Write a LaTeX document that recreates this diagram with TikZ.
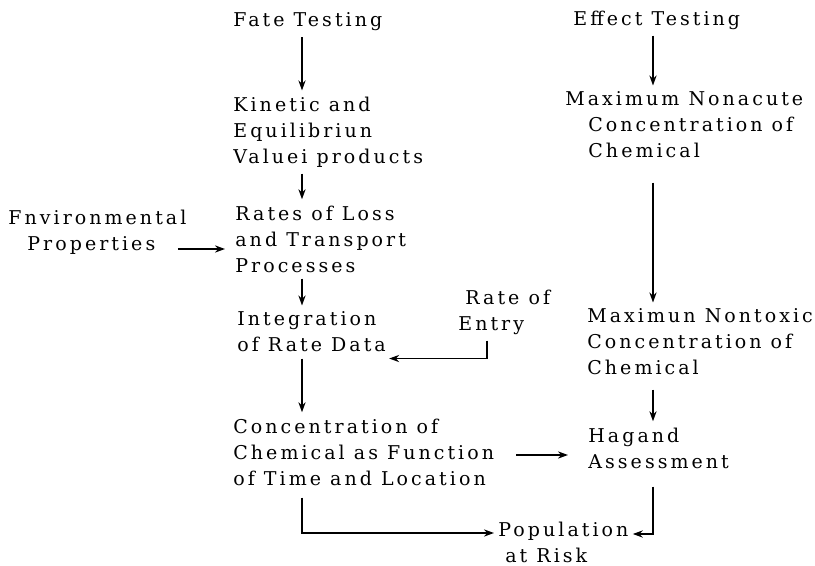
\documentclass[tikz,border=0pt]{standalone}
\usepackage{fontspec}
\setmainfont{DejaVu Serif}[LetterSpace=16]
\usepackage{tikz}
\usetikzlibrary{arrows.meta}

\begin{document}
\begin{tikzpicture}[
    x=0.5pt, y=-0.5pt,
    stage/.style={
        anchor=west,
        align=left,
        font=\fontsize{9.5}{13}\selectfont,
        inner xsep=0pt, inner ysep=3pt
    },
    line/.style={line width=0.7pt, -{Stealth[length=5pt,width=3.6pt]}}
]
\useasboundingbox (0,0) rectangle (815,566);

\coordinate (lcol) at (302,0);
\coordinate (rcol) at (653,0);

% Fate column
\node[stage] (fate) at (233,22) {Fate Testing};
\node[stage] (kin) at (233,132)
    {Kinetic and\\Equilibriun\\Valuei products};
\node[stage] (rates) at (235,239)
    {Rates of Loss\\and Transport\\Processes};
\node[stage] (env) at (8,232)
    {Fnvironmental\\\hspace*{9.5pt}Properties};
\node[stage] (integ) at (237,332)
    {Integration\\of Rate Data};
\node[stage] (entry) at (458,312)
    {\hspace*{3.5pt}Rate of\\Entry};
\node[stage] (conc) at (233,452)
    {Concentration of\\Chemical as Function\\of Time and Location};

% Effect column
\node[stage] (effect) at (573,20) {Effect Testing};
\node[stage] (nonacute) at (565,125)
    {Maximum Nonacute\\\hspace*{11.5pt}Concentration of\\\hspace*{11.5pt}Chemical};
\node[stage] (nontoxic) at (587,342)
    {Maximun Nontoxic\\Concentration of\\Chemical};
\node[stage] (hagand) at (588,448)
    {Hagand\\Assessment};

\node[stage] (popu) at (498,542)
    {Population\\\hspace*{3.5pt}at Risk};

% Connecting lines
\draw[line] (fate.south -| lcol) -- (kin.north -| lcol);
\draw[line] (kin.south -| lcol) -- (rates.north -| lcol);
\draw[line] (rates.south -| lcol) -- (integ.north -| lcol);
\draw[line] (integ.south -| lcol) -- (conc.north -| lcol);
\draw[line, shorten >=5pt] ([xshift=-4.5pt,yshift=-8.5pt]env.east)
    -- ([yshift=-8.5pt]env.east -| rates.west);
\draw[line] ([xshift=14.5pt]entry.south west) |- ([xshift=1.5pt]integ.south east);

\draw[line] (effect.south -| rcol) -- (nonacute.north -| rcol);
\draw[line, shorten <=9pt] (nonacute.south -| rcol) -- (nontoxic.north -| rcol);
\draw[line, shorten <=4pt] (nontoxic.south -| rcol) -- (hagand.north -| rcol);
\draw[line, shorten <=11pt, shorten >=10pt] ([yshift=-1.5pt]conc.east)
    -- ([yshift=-1.5pt]conc.east -| hagand.west);

\draw[line, shorten <=3pt, shorten >=2pt] (conc.south -| lcol) |- ([yshift=4.5pt]popu.west);
\draw[line, shorten <=6pt, shorten >=2pt] (hagand.south -| rcol) |- ([yshift=4pt]popu.east);

\end{tikzpicture}
\end{document}
